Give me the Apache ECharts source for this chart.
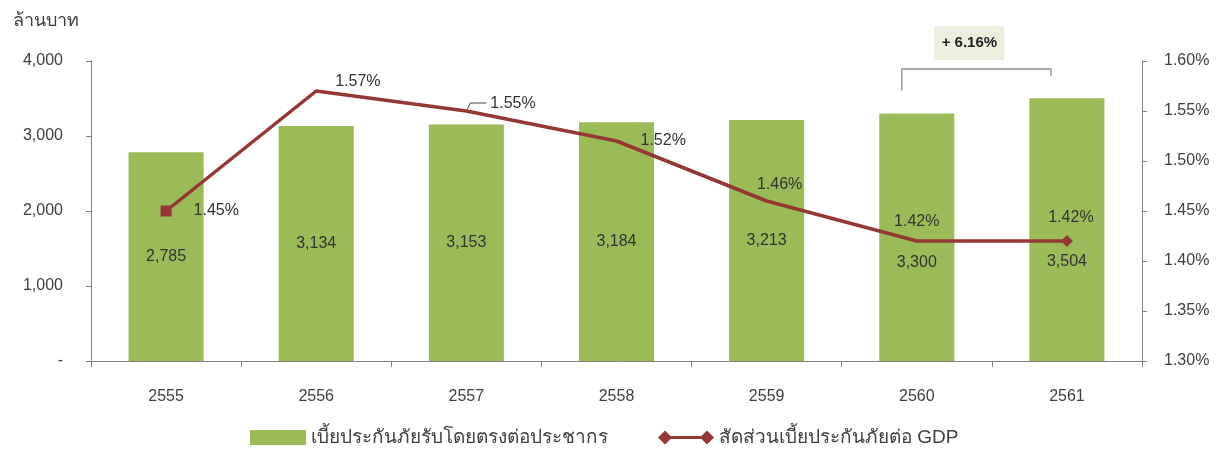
<!DOCTYPE html>
<html><head><meta charset="utf-8">
<script src="https://cdn.jsdelivr.net/npm/echarts@6/dist/echarts.min.js"></script>
<style>html,body{margin:0;padding:0;background:#fff}#c{width:1228px;height:455px}</style>
</head><body><div id="c"></div>
<script>
var categories = ['2555','2556','2557','2558','2559','2560','2561'];
var premiumPerCapita = [2785, 3134, 3153, 3184, 3213, 3300, 3504];
var premiumToGDP = [1.45, 1.57, 1.55, 1.52, 1.46, 1.42, 1.42];
var leftTicks = {0:'-', 1000:'1,000', 2000:'2,000', 3000:'3,000', 4000:'4,000'};
var growthLabel = '+ 6.16%';
var seriesNames = ['เบี้ยประกันภัยรับโดยตรงต่อประชากร', 'สัดส่วนเบี้ยประกันภัยต่อ GDP'];

var FONT = 'Arial, "Liberation Sans", "Noto Sans", sans-serif';
var TXT = '#404040';
var chart = echarts.init(document.getElementById('c'));

var barLabelOffsets = [[0,0],[0,0],[0,0],[0,0],[0,0],[0,25],[0,32]];
var lineLabelCfg = [
  {position:'right', distance:22, offset:[0,0]},
  {position:'right', distance:19, offset:[0,-9]},
  {position:'right', distance:24, offset:[0,-7]},
  {position:'right', distance:24, offset:[0,0]},
  {position:'top', distance:8, offset:[13,0]},
  {position:'top', distance:11, offset:[0,0]},
  {position:'top', distance:9, offset:[4,0]}
];
var lineSymbols = ['rect','circle','circle','circle','circle','circle','diamond'];
var lineSymbolSizes = [11,0,0,0,0,0,12];

chart.setOption({
  animation: false,
  textStyle: {fontFamily: FONT},
  grid: {left: 91, right: 86, top: 61, bottom: 94},
  title: {text: 'ล้านบาท', left: 8, top: 7, textStyle: {fontFamily: FONT, fontSize: 18, fontWeight: 'normal', color: TXT}},
  legend: {
    bottom: 3, left: 245, itemGap: 50, itemWidth: 56, itemHeight: 15,
    textStyle: {fontFamily: FONT, fontSize: 19, color: TXT},
    data: [
      {name: seriesNames[0], icon: 'rect'},
      {name: seriesNames[1], icon: 'path://M0,7.5 L7,0.5 L14,7.5 L7,14.5 Z M7,6 L49,6 L49,9 L7,9 Z M42,7.5 L49,0.5 L56,7.5 L49,14.5 Z'}
    ]
  },
  xAxis: {
    type: 'category', data: categories,
    axisLine: {lineStyle: {color: '#808080'}},
    axisTick: {show: true, alignWithLabel: false, length: 6, lineStyle: {color: '#808080'}},
    axisLabel: {color: TXT, fontSize: 16, margin: 28, fontFamily: FONT}
  },
  yAxis: [
    {type: 'value', min: 0, max: 4000, interval: 1000,
     axisLine: {show: true, lineStyle: {color: '#808080'}},
     axisTick: {show: true, length: 5, lineStyle: {color: '#808080'}},
     splitLine: {show: false},
     axisLabel: {color: TXT, fontSize: 16, margin: 28, fontFamily: FONT, formatter: function(v){return leftTicks[v];}}},
    {type: 'value', min: 1.30, max: 1.60, interval: 0.05,
     axisLine: {show: true, lineStyle: {color: '#808080'}},
     axisTick: {show: true, length: 5, lineStyle: {color: '#808080'}},
     splitLine: {show: false},
     axisLabel: {color: TXT, fontSize: 16, margin: 22, fontFamily: FONT, formatter: function(v){return v.toFixed(2)+'%';}}}
  ],
  series: [
    {name: seriesNames[0], type: 'bar', barWidth: '50%', itemStyle: {color: '#9bbb59'},
     label: {show: true, position: 'inside', color: '#333', fontSize: 16, fontFamily: FONT,
             formatter: function(p){return p.value.toLocaleString('en-US');}},
     data: premiumPerCapita.map(function(v,i){return {value: v, label: {offset: barLabelOffsets[i]}};})},
    {name: seriesNames[1], type: 'line', yAxisIndex: 1,
     lineStyle: {color: '#953735', width: 3.5}, itemStyle: {color: '#953735'},
     showAllSymbol: true,
     label: {show: true, color: '#333', fontSize: 16, fontFamily: FONT, formatter: function(p){return p.value.toFixed(2)+'%';}},
     data: premiumToGDP.map(function(v,i){
       return {value: v, symbol: lineSymbols[i], symbolSize: lineSymbolSizes[i], label: lineLabelCfg[i]};
     })}
  ]
});

// annotations: leader line for 2557 label and growth bracket between 2560 and 2561
var p2 = chart.convertToPixel({xAxisIndex:0, yAxisIndex:1}, [2, premiumToGDP[2]]);
var pL = chart.convertToPixel({xAxisIndex:0, yAxisIndex:0}, [5, premiumPerCapita[5]]);
var pR = chart.convertToPixel({xAxisIndex:0, yAxisIndex:0}, [6, premiumPerCapita[6]]);
var xl = pL[0]-15, xr = pR[0]-16, yTop = 69;
chart.setOption({graphic: [
  {type:'polyline', shape:{points:[[p2[0]+1,p2[1]-2],[p2[0]+4,p2[1]-8],[p2[0]+20,p2[1]-8]]}, style:{stroke:'#404040', lineWidth:1, fill:null}},
  {type:'polyline', shape:{points:[[xl, pL[1]-23],[xl,yTop],[xr,yTop],[xr,yTop+7]]}, style:{stroke:'#8c8c8c', lineWidth:1.3, fill:null}},
  {type:'rect', shape:{x:(xl+xr)/2-42, y:26, width:70, height:34}, style:{fill:'#ebf0de'}},
  {type:'text', x:(xl+xr)/2-7, y:43, style:{text: growthLabel, font:'bold 15px '+FONT, fill:'#222', align:'center', verticalAlign:'middle'}}
]});
</script>
</body></html>
